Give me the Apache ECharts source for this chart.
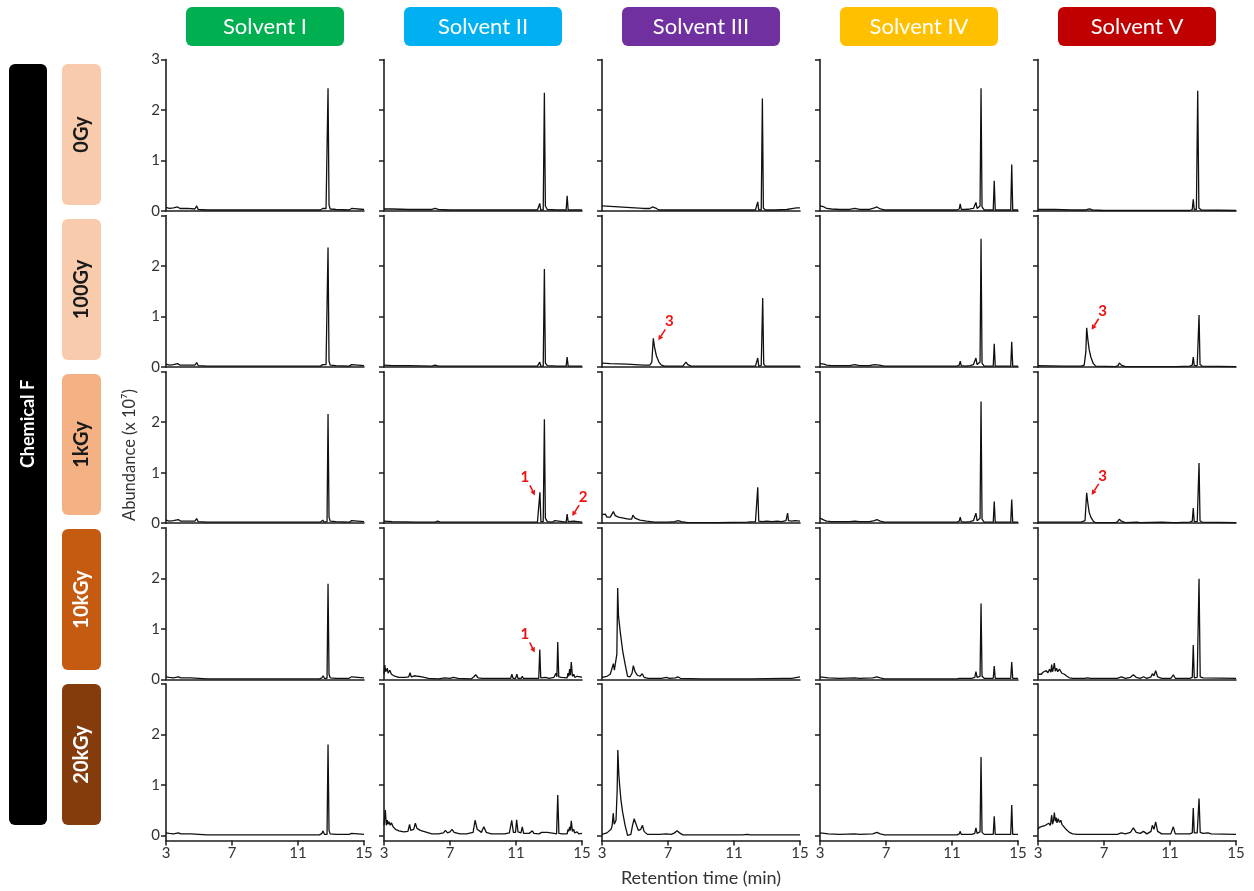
<!DOCTYPE html>
<html>
<head>
<meta charset="utf-8">
<title>Chemical F – chromatograms by solvent and dose</title>
<script src="https://cdn.jsdelivr.net/npm/echarts@6/dist/echarts.min.js"></script>
<style>
  html, body { margin: 0; padding: 0; background: #ffffff; }
  #chart { width: 1254px; height: 891px; }
</style>
</head>
<body>
<div id="chart"></div>
<script>
// ---- labels ----
const sampleName = 'Chemical F';
const solvents = ['Solvent I', 'Solvent II', 'Solvent III', 'Solvent IV', 'Solvent V'];
const doses = ['0Gy', '100Gy', '1kGy', '10kGy', '20kGy'];
const xTickValues = [3, 7, 11, 15];
const yTickValues = [0, 1, 2, 3];
const xTitle = 'Retention time (min)';
const yTitle = 'Abundance (x 10\u2077)';

// ---- chromatograms: [retention time (min), abundance (x10^7)] ----
// Solvent I
const solI_0Gy = [[3,0.07],[3.2,0.05],[3.45,0.06],[3.7,0.08],[3.85,0.05],[4.3,0.05],[4.75,0.04],[4.86,0.1],[4.95,0.03],[5.5,0.02],[6.3,0.02],[6.4,0.03],[6.55,0.02],[9,0.02],[12.35,0.02],[12.5,0.05],[12.58,0.02],[12.7,0.05],[12.76,0.03],[12.82,2.43],[12.88,0.12],[12.95,0.04],[13.3,0.03],[14.1,0.02],[14.25,0.05],[14.32,0.02],[15,0.03]];
const solI_100Gy = [[3,0.06],[3.2,0.04],[3.45,0.05],[3.7,0.07],[3.85,0.04],[4.3,0.04],[4.75,0.04],[4.86,0.09],[4.95,0.03],[5.5,0.02],[6.3,0.02],[6.4,0.03],[6.55,0.02],[9,0.02],[12.35,0.02],[12.5,0.05],[12.58,0.02],[12.7,0.05],[12.76,0.03],[12.82,2.37],[12.88,0.12],[12.95,0.04],[13.3,0.03],[14.1,0.02],[14.25,0.05],[14.32,0.02],[15,0.03]];
const solI_1kGy = [[3,0.06],[3.2,0.04],[3.45,0.05],[3.75,0.07],[3.9,0.04],[4.3,0.04],[4.75,0.04],[4.86,0.09],[4.95,0.03],[5.5,0.02],[6.3,0.02],[6.4,0.03],[6.55,0.02],[9,0.02],[12.35,0.02],[12.5,0.06],[12.58,0.02],[12.7,0.05],[12.76,0.03],[12.82,2.16],[12.88,0.12],[12.95,0.04],[13.3,0.03],[14.1,0.02],[14.25,0.05],[14.32,0.02],[15,0.03]];
const solI_10kGy = [[3,0.05],[3.2,0.04],[3.45,0.03],[3.75,0.05],[3.9,0.03],[4.5,0.03],[5.0,0.02],[5.5,0.01],[9,0.01],[12.3,0.01],[12.45,0.03],[12.52,0.07],[12.6,0.02],[12.7,0.03],[12.76,0.02],[12.82,1.89],[12.88,0.1],[12.95,0.03],[13.3,0.02],[14.1,0.02],[14.25,0.05],[14.32,0.02],[15,0.03]];
const solI_20kGy = [[3,0.05],[3.2,0.04],[3.45,0.03],[3.75,0.05],[3.9,0.03],[4.5,0.03],[5.0,0.02],[5.5,0.01],[9,0.01],[12.3,0.01],[12.45,0.04],[12.52,0.09],[12.6,0.02],[12.7,0.03],[12.76,0.02],[12.82,1.8],[12.88,0.1],[12.95,0.03],[13.3,0.02],[14.1,0.02],[14.25,0.04],[14.32,0.02],[15,0.02]];

// Solvent II
const solII_0Gy = [[3,0.04],[3.5,0.04],[4.5,0.03],[5.9,0.03],[6.1,0.05],[6.3,0.03],[7,0.02],[10,0.02],[12.3,0.02],[12.44,0.15],[12.5,0.02],[12.65,0.02],[12.72,2.34],[12.78,0.1],[12.9,0.03],[13.5,0.02],[14.04,0.02],[14.1,0.3],[14.16,0.02],[15,0.02]];
const solII_100Gy = [[3,0.04],[3.5,0.03],[4.5,0.03],[5.9,0.02],[6.1,0.04],[6.3,0.02],[7,0.02],[10,0.02],[12.3,0.02],[12.44,0.1],[12.5,0.02],[12.65,0.02],[12.72,1.94],[12.78,0.08],[12.9,0.03],[13.5,0.02],[14.04,0.02],[14.1,0.2],[14.16,0.02],[15,0.02]];
const solII_1kGy = [[3,0.04],[3.5,0.03],[5,0.02],[6.1,0.02],[6.25,0.04],[6.4,0.02],[9,0.02],[12.3,0.02],[12.4,0.03],[12.45,0.61],[12.51,0.03],[12.65,0.03],[12.72,2.06],[12.78,0.1],[12.9,0.03],[13.2,0.02],[13.35,0.05],[13.45,0.02],[14.04,0.02],[14.1,0.18],[14.16,0.03],[14.5,0.04],[15,0.02]];
const solII_10kGy = [[3.0,0.1],[3.05,0.28],[3.1,0.15],[3.2,0.22],[3.25,0.12],[3.35,0.18],[3.45,0.1],[3.6,0.07],[3.9,0.04],[4.3,0.04],[4.5,0.05],[4.58,0.13],[4.65,0.05],[4.85,0.07],[4.95,0.1],[5.05,0.06],[5.3,0.05],[5.7,0.02],[6.3,0.01],[6.7,0.03],[7.0,0.02],[7.2,0.04],[7.5,0.02],[8.3,0.01],[8.45,0.05],[8.55,0.09],[8.7,0.03],[8.95,0.02],[9.05,0.05],[9.2,0.02],[10.2,0.02],[10.68,0.02],[10.75,0.1],[10.82,0.02],[10.98,0.02],[11.05,0.1],[11.12,0.02],[11.32,0.02],[11.38,0.06],[11.44,0.02],[11.9,0.02],[11.99,0.04],[12.1,0.02],[12.38,0.02],[12.44,0.59],[12.5,0.03],[12.8,0.04],[13.0,0.02],[13.3,0.04],[13.42,0.12],[13.48,0.05],[13.53,0.74],[13.59,0.05],[13.75,0.04],[14.1,0.03],[14.15,0.12],[14.2,0.06],[14.25,0.2],[14.3,0.08],[14.35,0.34],[14.42,0.06],[14.5,0.1],[14.56,0.04],[14.7,0.06],[14.8,0.03],[14.9,0.05],[15,0.04]];
const solII_20kGy = [[3.0,0.2],[3.08,0.5],[3.14,0.2],[3.2,0.3],[3.25,0.22],[3.3,0.27],[3.38,0.2],[3.45,0.25],[3.55,0.17],[3.7,0.12],[3.9,0.09],[4.2,0.07],[4.45,0.08],[4.55,0.22],[4.62,0.1],[4.8,0.12],[4.9,0.24],[5.0,0.14],[5.2,0.1],[5.5,0.07],[5.9,0.03],[6.3,0.03],[6.6,0.05],[6.72,0.1],[6.85,0.05],[7.0,0.07],[7.12,0.12],[7.25,0.06],[7.6,0.03],[8.0,0.03],[8.4,0.06],[8.52,0.3],[8.65,0.12],[8.9,0.06],[9.05,0.17],[9.2,0.06],[9.5,0.03],[10.3,0.03],[10.6,0.05],[10.74,0.3],[10.84,0.06],[10.97,0.06],[11.04,0.31],[11.12,0.07],[11.3,0.05],[11.38,0.17],[11.46,0.04],[11.8,0.04],[11.99,0.09],[12.08,0.04],[12.4,0.03],[12.55,0.06],[12.65,0.03],[12.9,0.06],[13.0,0.03],[13.3,0.04],[13.46,0.03],[13.53,0.8],[13.6,0.04],[13.8,0.03],[14.1,0.03],[14.15,0.12],[14.2,0.08],[14.25,0.17],[14.3,0.1],[14.35,0.29],[14.42,0.08],[14.5,0.12],[14.55,0.05],[14.7,0.07],[14.8,0.03],[14.9,0.05],[15,0.04]];

// Solvent III
const solIII_0Gy = [[3.0,0.1],[3.5,0.09],[4.0,0.08],[4.5,0.07],[5.0,0.06],[5.5,0.05],[5.9,0.05],[6.05,0.08],[6.17,0.1],[6.3,0.05],[6.45,0.02],[7,0.02],[9,0.02],[11,0.02],[12.3,0.02],[12.44,0.18],[12.5,0.02],[12.65,0.02],[12.72,2.23],[12.78,0.06],[12.9,0.02],[13.5,0.02],[14.2,0.03],[14.6,0.05],[14.8,0.06],[15,0.06]];
const solIII_100Gy = [[3.0,0.08],[3.5,0.07],[4.5,0.06],[5.5,0.04],[5.9,0.04],[6.02,0.1],[6.11,0.57],[6.18,0.4],[6.3,0.22],[6.45,0.1],[6.6,0.04],[6.8,0.02],[7.9,0.02],[8.0,0.04],[8.09,0.1],[8.2,0.05],[8.4,0.02],[10,0.02],[12.3,0.02],[12.44,0.18],[12.5,0.02],[12.65,0.03],[12.74,1.37],[12.8,0.06],[12.9,0.02],[15,0.02]];
const solIII_1kGy = [[3.0,0.17],[3.1,0.14],[3.2,0.18],[3.3,0.12],[3.5,0.12],[3.62,0.1],[3.69,0.23],[3.8,0.15],[4.0,0.12],[4.3,0.1],[4.6,0.08],[4.8,0.08],[4.87,0.16],[5.0,0.1],[5.3,0.06],[5.7,0.04],[6.2,0.02],[6.6,0.02],[7.0,0.02],[7.4,0.03],[7.62,0.05],[7.8,0.03],[8.2,0.01],[10,0.01],[11.8,0.02],[12.3,0.03],[12.38,0.03],[12.44,0.71],[12.5,0.04],[12.7,0.03],[13.0,0.04],[13.3,0.03],[13.6,0.04],[13.9,0.03],[14.15,0.05],[14.25,0.2],[14.3,0.05],[14.5,0.04],[14.7,0.05],[15,0.04]];
const solIII_10kGy = [[3.0,0.04],[3.3,0.06],[3.5,0.1],[3.6,0.12],[3.69,0.31],[3.75,0.18],[3.82,0.2],[3.9,0.5],[3.95,1.81],[4.0,1.25],[4.05,1.28],[4.12,0.9],[4.25,0.57],[4.4,0.3],[4.55,0.06],[4.7,0.05],[4.82,0.12],[4.9,0.27],[5.0,0.15],[5.15,0.08],[5.3,0.06],[5.44,0.11],[5.55,0.04],[5.8,0.02],[6.6,0.02],[6.9,0.04],[7.1,0.02],[7.45,0.03],[7.6,0.05],[7.75,0.02],[9,0.01],[12,0.01],[14,0.02],[14.5,0.02],[15,0.05]];
const solIII_20kGy = [[3.0,0.02],[3.3,0.05],[3.55,0.12],[3.62,0.2],[3.68,0.44],[3.74,0.22],[3.85,0.3],[3.92,0.9],[3.96,1.69],[4.02,1.2],[4.08,0.95],[4.15,0.7],[4.25,0.46],[4.4,0.2],[4.55,0.0],[4.75,0.02],[4.85,0.2],[4.95,0.33],[5.05,0.3],[5.2,0.1],[5.35,0.12],[5.45,0.2],[5.55,0.08],[5.75,0.02],[6.5,0.02],[6.9,0.03],[7.2,0.02],[7.4,0.05],[7.55,0.09],[7.7,0.05],[7.9,0.01],[9,0.01],[11.5,0.01],[11.8,0.02],[12,0.01],[14.1,0.01],[14.2,0.03],[14.3,0.01],[15,0.01]];

// Solvent IV
const solIV_0Gy = [[3.0,0.1],[3.1,0.12],[3.25,0.08],[3.4,0.05],[3.7,0.04],[4.2,0.03],[4.8,0.03],[5.1,0.05],[5.4,0.03],[6.0,0.03],[6.3,0.06],[6.45,0.08],[6.65,0.04],[6.9,0.02],[9,0.02],[11.3,0.02],[11.44,0.04],[11.5,0.14],[11.56,0.03],[11.8,0.03],[12.1,0.04],[12.3,0.05],[12.45,0.17],[12.52,0.05],[12.62,0.08],[12.7,0.1],[12.76,2.43],[12.82,0.08],[12.95,0.02],[13.5,0.02],[13.56,0.6],[13.62,0.02],[14.56,0.02],[14.62,0.92],[14.68,0.02],[15,0.02]];
const solIV_100Gy = [[3.0,0.07],[3.1,0.09],[3.25,0.06],[3.4,0.04],[3.7,0.03],[4.2,0.03],[4.8,0.03],[5.1,0.05],[5.4,0.03],[6.0,0.03],[6.3,0.05],[6.42,0.07],[6.6,0.04],[6.9,0.02],[8.2,0.02],[8.3,0.03],[8.4,0.02],[11.3,0.02],[11.44,0.04],[11.5,0.12],[11.56,0.03],[11.8,0.02],[12.1,0.03],[12.3,0.05],[12.45,0.18],[12.52,0.05],[12.62,0.07],[12.7,0.1],[12.76,2.54],[12.82,0.08],[12.95,0.02],[13.5,0.02],[13.56,0.46],[13.62,0.02],[14.56,0.02],[14.62,0.5],[14.68,0.02],[15,0.02]];
const solIV_1kGy = [[3.0,0.1],[3.1,0.1],[3.25,0.06],[3.4,0.04],[3.7,0.03],[4.2,0.03],[4.8,0.03],[5.1,0.04],[5.4,0.03],[6.0,0.03],[6.3,0.05],[6.45,0.07],[6.65,0.04],[6.9,0.02],[8.15,0.02],[8.25,0.03],[8.35,0.02],[11.3,0.02],[11.44,0.04],[11.5,0.12],[11.56,0.03],[11.8,0.02],[12.1,0.03],[12.3,0.05],[12.45,0.2],[12.52,0.05],[12.62,0.07],[12.7,0.1],[12.76,2.41],[12.82,0.08],[12.95,0.02],[13.5,0.02],[13.56,0.43],[13.62,0.02],[14.56,0.02],[14.62,0.47],[14.68,0.02],[15,0.02]];
const solIV_10kGy = [[3.0,0.05],[3.1,0.06],[3.25,0.04],[3.5,0.03],[4.2,0.02],[5.1,0.03],[5.4,0.02],[6.2,0.03],[6.45,0.05],[6.65,0.03],[6.9,0.01],[9,0.01],[11.3,0.01],[11.44,0.02],[11.5,0.05],[11.56,0.02],[12.2,0.02],[12.38,0.04],[12.45,0.15],[12.52,0.04],[12.62,0.05],[12.7,0.06],[12.76,1.5],[12.82,0.06],[12.95,0.02],[13.5,0.02],[13.56,0.26],[13.62,0.02],[14.56,0.02],[14.62,0.34],[14.68,0.02],[15,0.02]];
const solIV_20kGy = [[3.0,0.05],[3.1,0.06],[3.25,0.04],[3.5,0.03],[4.2,0.02],[5.1,0.03],[5.4,0.02],[6.2,0.03],[6.45,0.06],[6.65,0.03],[6.9,0.01],[9,0.01],[11.3,0.01],[11.44,0.03],[11.5,0.08],[11.56,0.02],[12.2,0.02],[12.38,0.04],[12.45,0.15],[12.52,0.04],[12.62,0.05],[12.7,0.07],[12.76,1.55],[12.82,0.06],[12.95,0.02],[13.5,0.02],[13.56,0.38],[13.62,0.02],[14.56,0.02],[14.62,0.6],[14.68,0.02],[15,0.02]];

// Solvent V
const solV_0Gy = [[3.0,0.03],[4,0.03],[5,0.02],[5.9,0.02],[6.11,0.04],[6.3,0.02],[7,0.01],[12.2,0.01],[12.35,0.03],[12.41,0.23],[12.47,0.03],[12.6,0.03],[12.68,2.38],[12.75,0.06],[12.9,0.02],[15,0.01]];
const solV_100Gy = [[3.0,0.03],[4.5,0.02],[5.6,0.02],[5.8,0.04],[5.9,0.3],[5.95,0.78],[6.02,0.55],[6.1,0.35],[6.2,0.2],[6.35,0.07],[6.5,0.02],[7.7,0.01],[7.85,0.03],[7.93,0.08],[8.05,0.04],[8.3,0.01],[9,0.01],[10.5,0.01],[11.2,0.01],[11.3,0.03],[11.4,0.01],[12.2,0.02],[12.35,0.04],[12.41,0.2],[12.47,0.03],[12.65,0.03],[12.76,1.03],[12.82,0.05],[12.95,0.02],[15,0.01]];
const solV_1kGy = [[3.0,0.02],[4,0.02],[5.6,0.02],[5.85,0.05],[5.95,0.6],[6.02,0.4],[6.1,0.22],[6.2,0.12],[6.35,0.04],[6.5,0.01],[7.7,0.01],[7.85,0.04],[7.93,0.08],[8.05,0.04],[8.3,0.01],[9.0,0.02],[9.2,0.01],[10.5,0.02],[11.2,0.01],[11.3,0.03],[11.4,0.01],[12.2,0.02],[12.35,0.04],[12.41,0.3],[12.47,0.03],[12.65,0.03],[12.76,1.19],[12.82,0.05],[12.95,0.02],[15,0.01]];
const solV_10kGy = [[3.0,0.1],[3.1,0.12],[3.2,0.1],[3.3,0.14],[3.4,0.12],[3.5,0.17],[3.6,0.13],[3.7,0.2],[3.78,0.14],[3.83,0.29],[3.88,0.15],[3.94,0.22],[3.99,0.32],[4.05,0.16],[4.12,0.22],[4.2,0.15],[4.3,0.2],[4.39,0.18],[4.45,0.12],[4.6,0.1],[4.75,0.06],[4.9,0.03],[5.1,0.02],[5.8,0.02],[6.0,0.03],[6.2,0.02],[7.8,0.02],[8.05,0.05],[8.3,0.02],[8.6,0.04],[8.78,0.09],[8.95,0.04],[9.2,0.02],[9.39,0.05],[9.6,0.02],[9.85,0.05],[9.93,0.11],[10.03,0.07],[10.13,0.17],[10.25,0.05],[10.5,0.02],[11.05,0.02],[11.2,0.09],[11.32,0.02],[12.2,0.02],[12.35,0.04],[12.41,0.68],[12.47,0.03],[12.65,0.04],[12.76,1.99],[12.83,0.05],[13.0,0.03],[15,0.02]];
const solV_20kGy = [[3.0,0.12],[3.08,0.16],[3.16,0.13],[3.25,0.18],[3.35,0.15],[3.45,0.2],[3.55,0.17],[3.65,0.24],[3.75,0.2],[3.83,0.4],[3.88,0.22],[3.94,0.3],[3.99,0.45],[4.05,0.28],[4.1,0.35],[4.15,0.25],[4.22,0.33],[4.3,0.26],[4.38,0.3],[4.45,0.22],[4.55,0.2],[4.7,0.12],[4.9,0.06],[5.1,0.03],[5.4,0.02],[6,0.02],[7.8,0.02],[8.05,0.05],[8.3,0.03],[8.6,0.06],[8.78,0.15],[8.95,0.06],[9.2,0.04],[9.39,0.08],[9.6,0.03],[9.85,0.08],[9.93,0.2],[10.03,0.12],[10.13,0.27],[10.25,0.08],[10.5,0.03],[11.05,0.03],[11.2,0.17],[11.32,0.03],[12.2,0.03],[12.35,0.05],[12.41,0.54],[12.47,0.05],[12.65,0.05],[12.76,0.73],[12.83,0.06],[13.0,0.04],[13.3,0.05],[13.5,0.03],[15,0.02]];

// rows follow doses, columns follow solvents
const traces = [
  [solI_0Gy,   solII_0Gy,   solIII_0Gy,   solIV_0Gy,   solV_0Gy],
  [solI_100Gy, solII_100Gy, solIII_100Gy, solIV_100Gy, solV_100Gy],
  [solI_1kGy,  solII_1kGy,  solIII_1kGy,  solIV_1kGy,  solV_1kGy],
  [solI_10kGy, solII_10kGy, solIII_10kGy, solIV_10kGy, solV_10kGy],
  [solI_20kGy, solII_20kGy, solIII_20kGy, solIV_20kGy, solV_20kGy]
];

// numbered peaks: label, panel, and the peak apex they point at
const peakLabels = ['1', '2', '1', '3', '3', '3'];
const peakDoses = ['1kGy', '1kGy', '10kGy', '100Gy', '100Gy', '1kGy'];
const peakSolvents = ['Solvent II', 'Solvent II', 'Solvent II', 'Solvent III', 'Solvent V', 'Solvent V'];
const peakTimes = [12.45, 14.1, 12.44, 6.11, 5.95, 5.95];
const peakHeights = [0.61, 0.18, 0.59, 0.57, 0.78, 0.6];

// ---- appearance ----
const FONT = 'Lato, "Open Sans", "Noto Sans", sans-serif';
const headerColors = ['#00b050', '#00b0f0', '#7030a0', '#ffc000', '#c00000'];
const doseFill = ['#f8cbad', '#f8cbad', '#f4b183', '#c55a11', '#843c0c'];
const doseText = ['#1a1a1a', '#1a1a1a', '#1a1a1a', '#ffffff', '#ffffff'];
const AXIS = '#1e1e1e';
const TRACE = '#111111';
const NOTE = '#ee1111';

const colLeft = c => 166 + 218 * c;
const plotW = 198;
const unit = 50.5;                    // px per 10^7 counts
const rowBase = r => 211 + 156.1 * r; // pixel row of abundance 0

const chart = echarts.init(document.getElementById('chart'), null, { renderer: 'canvas' });

const grids = [], xAxes = [], yAxes = [], series = [];
doses.forEach((dose, r) => {
  solvents.forEach((solvent, c) => {
    const i = r * solvents.length + c;
    const last = r === doses.length - 1;
    const yMin = last ? -0.1 : 0;
    grids.push({
      left: colLeft(c), top: rowBase(r) - 3 * unit,
      width: plotW, height: (3 - yMin) * unit
    });
    xAxes.push({
      type: 'value', gridIndex: i, min: 3, max: 15,
      axisLine: { show: true, onZero: false, lineStyle: { color: AXIS, width: 1.6 } },
      axisTick: { show: last, customValues: xTickValues, length: 5, lineStyle: { color: AXIS, width: 1.5 } },
      axisLabel: { show: last, customValues: xTickValues, fontSize: 15, color: '#333', margin: 5, fontFamily: FONT },
      splitLine: { show: false }
    });
    yAxes.push({
      type: 'value', gridIndex: i, min: yMin, max: 3,
      axisLine: { show: true, onZero: false, lineStyle: { color: AXIS, width: 1.6 } },
      axisTick: { show: true, customValues: yTickValues, length: 5, lineStyle: { color: AXIS, width: 1.5 } },
      axisLabel: {
        show: c === 0,
        customValues: r === 0 ? yTickValues : yTickValues.slice(0, 3),
        fontSize: 15, color: '#333', margin: 6, fontFamily: FONT
      },
      splitLine: { show: false }
    });
    series.push({
      name: solvent + ' ' + dose,
      type: 'line', xAxisIndex: i, yAxisIndex: i,
      data: traces[r][c],
      symbol: 'none', silent: true,
      lineStyle: { color: TRACE, width: 1.3 }
    });
  });
});

// frame: solvent headers, dose tags, sample bar, axis titles
const frame = [];
solvents.forEach((s, c) => {
  frame.push({
    type: 'rect', id: 'hdr' + c,
    shape: { x: 186 + 218 * c, y: 7, width: 158, height: 39, r: 6 },
    style: { fill: headerColors[c] }
  });
  frame.push({
    type: 'text', id: 'hdrt' + c, x: 265 + 218 * c, y: 27,
    style: { text: s, fill: '#ffffff', font: '22px ' + FONT, align: 'center', verticalAlign: 'middle' }
  });
});
frame.push({
  type: 'rect', id: 'sampleBar',
  shape: { x: 9, y: 64, width: 38, height: 761, r: 6 },
  style: { fill: '#000000' }
});
frame.push({
  type: 'text', id: 'sampleText', x: 28, y: 424, rotation: Math.PI / 2,
  style: { text: sampleName, fill: '#ffffff', font: 'bold 18px ' + FONT, align: 'center', verticalAlign: 'middle' }
});
doses.forEach((d, r) => {
  const top = 64 + 155 * r;
  frame.push({
    type: 'rect', id: 'dose' + r,
    shape: { x: 62, y: top, width: 39, height: 141, r: 6 },
    style: { fill: doseFill[r] }
  });
  frame.push({
    type: 'text', id: 'doset' + r, x: 82, y: top + 70.5, rotation: Math.PI / 2,
    style: { text: d, fill: doseText[r], font: 'bold 20px ' + FONT, align: 'center', verticalAlign: 'middle' }
  });
});
frame.push({
  type: 'text', id: 'yTitle', x: 130, y: 455, rotation: Math.PI / 2,
  style: { text: yTitle, fill: '#333', font: '16.5px ' + FONT, align: 'center', verticalAlign: 'middle' }
});
frame.push({
  type: 'text', id: 'xTitle', x: 701, y: 878,
  style: { text: xTitle, fill: '#333', font: '18px ' + FONT, align: 'center', verticalAlign: 'middle' }
});

chart.setOption({
  animation: false,
  backgroundColor: '#ffffff',
  grid: grids, xAxis: xAxes, yAxis: yAxes, series: series,
  graphic: frame
});

// numbered peak callouts: small red arrow to the apex plus the number
const notes = [];
peakLabels.forEach((label, k) => {
  const r = doses.indexOf(peakDoses[k]);
  const c = solvents.indexOf(peakSolvents[k]);
  const apex = chart.convertToPixel({ seriesIndex: r * solvents.length + c }, [peakTimes[k], peakHeights[k]]);
  const fromLeft = label === '1';
  const tip = fromLeft ? [apex[0] - 5, apex[1] + 3] : [apex[0] + 5, apex[1] + 2];
  const tail = fromLeft ? [tip[0] - 5, tip[1] - 10] : [tip[0] + 7, tip[1] - 11];
  const txt = fromLeft ? [tip[0] - 10, tip[1] - 18] : [tip[0] + 11, tip[1] - 19];
  const ang = Math.atan2(tip[1] - tail[1], tip[0] - tail[0]);
  const h = 5, w = 2.6, ca = Math.cos(ang), sa = Math.sin(ang);
  const base = [tip[0] - h * ca, tip[1] - h * sa];
  notes.push({
    type: 'line', id: 'nl' + k,
    shape: { x1: tail[0], y1: tail[1], x2: base[0], y2: base[1] },
    style: { stroke: NOTE, lineWidth: 1.6 }
  });
  notes.push({
    type: 'polygon', id: 'nh' + k,
    shape: { points: [tip, [base[0] + w * sa, base[1] - w * ca], [base[0] - w * sa, base[1] + w * ca]] },
    style: { fill: NOTE }
  });
  notes.push({
    type: 'text', id: 'nt' + k, x: txt[0], y: txt[1],
    style: { text: label, fill: NOTE, font: 'bold 15px ' + FONT, align: 'center', verticalAlign: 'middle' }
  });
});
chart.setOption({ graphic: frame.concat(notes) });
</script>
</body>
</html>
